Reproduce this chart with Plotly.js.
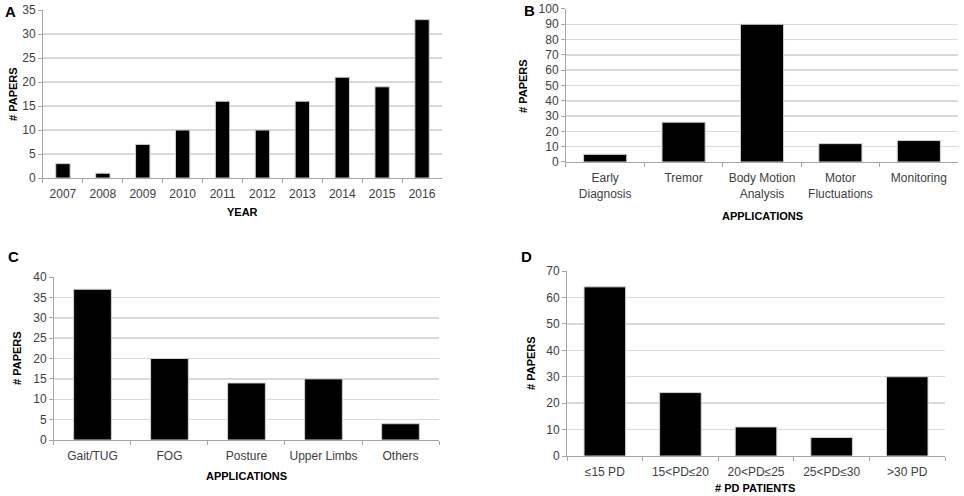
<!DOCTYPE html>
<html>
<head>
<meta charset="utf-8">
<script src="https://cdn.plot.ly/plotly-3.0.1.min.js"></script>
<style>
  body { margin: 0; background: #fff; }
  #chart { width: 964px; height: 496px; }
</style>
</head>
<body>
<div id="chart"></div>
<script>
// A - papers per year
const years = ['2007', '2008', '2009', '2010', '2011', '2012', '2013', '2014', '2015', '2016'];
const papersPerYear = [3, 1, 7, 10, 16, 10, 16, 21, 19, 33];

// B - applications
const applications = ['Early<br>Diagnosis', 'Tremor', 'Body Motion<br>Analysis', 'Motor<br>Fluctuations', 'Monitoring'];
const papersPerApplication = [5, 26, 90, 12, 14];

// C - body motion applications
const motionApps = ['Gait/TUG', 'FOG', 'Posture', 'Upper Limbs', 'Others'];
const papersPerMotionApp = [37, 20, 14, 15, 4];

// D - number of PD patients
const patientGroups = ['≤15 PD', '15<PD≤20', '20<PD≤25', '25<PD≤30', '>30 PD'];
const papersPerGroup = [64, 24, 11, 7, 30];

const font = 'Liberation Sans, Arial, sans-serif';

function barTrace(x, y, xa, ya, w) {
    return {
        x: x, y: y, type: 'bar', xaxis: xa, yaxis: ya, width: w,
        marker: {color: '#000000', line: {color: '#d0d0d0', width: 1}},
        hoverinfo: 'x+y', showlegend: false
    };
}

var data = [
    barTrace(years, papersPerYear, 'x', 'y', 0.36),
    barTrace(applications, papersPerApplication, 'x2', 'y2', 0.55),
    barTrace(motionApps, papersPerMotionApp, 'x3', 'y3', 0.49),
    barTrace(patientGroups, papersPerGroup, 'x4', 'y4', 0.55)
];

function xAxis(domain, anchor) {
    return {
        domain: domain, anchor: anchor, type: 'category', tickangle: 0,
        showline: true, linecolor: '#a6a6a6', linewidth: 1,
        ticks: 'outside', tickson: 'boundaries', ticklen: 4, tickcolor: '#a6a6a6',
        ticklabelstandoff: 5,
        showgrid: false, zeroline: false, fixedrange: true,
        tickfont: {family: font, size: 12, color: '#404040'}
    };
}

function yAxis(domain, anchor, max, step) {
    return {
        domain: domain, anchor: anchor, range: [0, max], dtick: step,
        showline: true, linecolor: '#a6a6a6', linewidth: 1,
        ticks: 'outside', ticklen: 4, tickcolor: '#a6a6a6',
        showgrid: true, gridcolor: '#d9d9d9', gridwidth: 1.5, zeroline: false, fixedrange: true,
        tickfont: {family: font, size: 12, color: '#404040'}
    };
}

function letter(txt, x, y) {
    return {
        text: txt, x: x, y: y, xref: 'paper', yref: 'paper', showarrow: false,
        xanchor: 'left', yanchor: 'middle',
        font: {family: font, size: 15, color: '#000', weight: 'bold'}
    };
}

// axis titles placed as in the original figure
function xTitle(txt, x, y) {
    return {
        text: txt, x: x, y: y, xref: 'paper', yref: 'paper', showarrow: false,
        xanchor: 'center', yanchor: 'middle',
        font: {family: font, size: 11, color: '#000', weight: 'bold'}
    };
}

function yTitle(x, y) {
    return {
        text: '# PAPERS', x: x, y: y, xref: 'paper', yref: 'paper', showarrow: false,
        textangle: -90, xanchor: 'center', yanchor: 'middle',
        font: {family: font, size: 11, color: '#000', weight: 'bold'}
    };
}

var layout = {
    width: 964, height: 496,
    margin: {l: 0, r: 0, t: 0, b: 0},
    paper_bgcolor: '#ffffff', plot_bgcolor: '#ffffff',
    xaxis: xAxis([0.0446, 0.4585], 'y'),
    yaxis: yAxis([0.6411, 0.9798], 'x', 35, 5),
    xaxis2: xAxis([0.5871, 0.9938], 'y2'),
    yaxis2: yAxis([0.6734, 0.9819], 'x2', 100, 10),
    xaxis3: xAxis([0.0560, 0.4554], 'y3'),
    yaxis3: yAxis([0.1129, 0.4415], 'x3', 40, 5),
    xaxis4: xAxis([0.5882, 0.9803], 'y4'),
    yaxis4: yAxis([0.0806, 0.4536], 'x4', 70, 10),
    annotations: [
        letter('A', 0.003, 0.977),
        letter('B', 0.541, 0.979),
        letter('C', 0.006, 0.482),
        letter('D', 0.538, 0.482),
        xTitle('YEAR', 242 / 964, 1 - 212 / 496),
        xTitle('APPLICATIONS', 762 / 964, 1 - 216 / 496),
        xTitle('APPLICATIONS', 247 / 964, 1 - 476 / 496),
        xTitle('# PD PATIENTS', 755 / 964, 1 - 488 / 496),
        yTitle(13 / 964, 1 - 94 / 496),
        yTitle(523 / 964, 1 - 86 / 496),
        yTitle(17 / 964, 1 - 358 / 496),
        yTitle(531 / 964, 1 - 363 / 496)
    ]
};

Plotly.newPlot('chart', data, layout, {displayModeBar: false, staticPlot: true});
</script>
</body>
</html>
